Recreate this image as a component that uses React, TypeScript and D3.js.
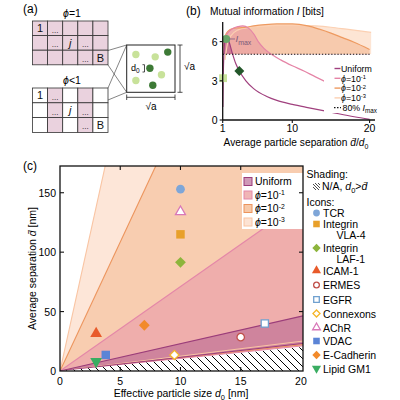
import React from 'react';
import * as d3 from 'd3';

const FONT = "'Liberation Sans', Arial, Helvetica, sans-serif";

// ---------- Panel (a) ----------
const gridCols = [0, 1, 2, 3, 4];
const gridRows = [0, 1, 2];
const sparseFilledCols = [1, 3];
const cellLabelCol = [0, 1, 1, 2, 3, 3, 4];
const cellLabelRow = [0, 0, 1, 1, 1, 2, 2];
const cellLabelText = ['1', '...', '...', 'j', '...', '...', 'B'];
const dotU = [0.19, 0.59, 0.72, 0.19, 0.85, 0.48, 0.54];
const dotV = [0.2, 0.25, 0.63, 0.75, 0.15, 0.49, 0.85];
const dotDark = [false, false, false, false, true, true, true];

// ---------- Panel (b) ----------
const uniformSep = [1.02, 1.08, 1.15, 1.25, 1.4, 1.55, 1.8, 2.2, 2.7, 3.15, 4, 5, 6.7, 8, 10, 12, 15, 18, 20];
const uniformInfo = [1.0, 3.6, 5.0, 5.9, 6.25, 6.25, 6.0, 5.2, 4.3, 3.75, 3.0, 2.4, 1.8, 1.5, 1.2, 0.95, 0.6, 0.25, 0.05];
const phi1Sep = [1, 1.3, 1.7, 2.3, 3, 3.6, 4.3, 5, 5.6, 6.3, 7.3, 8.5, 10, 11.5, 13, 15, 17, 20];
const phi1Info = [5.7, 6.3, 6.7, 7.0, 7.15, 7.2, 7.05, 6.6, 6.0, 5.5, 5.03, 4.6, 4.15, 3.75, 3.3, 2.75, 2.3, 1.75];
const phi2Sep = [1, 1.3, 1.7, 2.3, 3, 4, 5, 6.5, 8, 10, 12, 13.5, 15, 16.5, 18, 20];
const phi2Info = [5.5, 6.4, 6.8, 7.0, 7.05, 7.1, 7.2, 7.3, 7.35, 7.35, 7.2, 6.95, 6.65, 6.3, 5.95, 5.4];
const phi3Sep = [1.3, 1.6, 2, 3, 4, 5.5, 7, 9, 11, 13, 15, 17, 20.2];
const phi3Info = [4.6, 5.8, 6.4, 6.9, 7.05, 7.15, 7.2, 7.25, 7.25, 7.2, 7.1, 6.95, 6.7];
const imax = 6.29;
const markerSep = [1.05, 1.45, 3.15];
const markerInfo = [3.2, 6.2, 3.75];
const infoTicks = [0, 3, 6];
const sepTicks = [1, 10, 20];

// ---------- Panel (c) ----------
const regionExp = ['-3', '-2', '-1', 'Uniform'];
const regionLow = [1.25, 1.1, 1.05, 1.15];
const regionHigh = [46, 21.7, 7.1, 2.3];
const proteinNames = ['TCR', 'Integrin VLA-4', 'Integrin LAF-1', 'ICAM-1', 'ERMES', 'EGFR', 'Connexons', 'AChR', 'VDAC', 'E-Cadherin', 'Lipid GM1'];
const proteinSize = [10, 10, 10, 3, 15, 17, 9.5, 10, 3.8, 7, 3];
const proteinSep = [153, 115, 91.5, 31.5, 28.5, 40, 13.5, 134, 13.5, 38.5, 8];
const proteinShape = ['circle', 'square', 'diamond', 'triangle', 'circle', 'square', 'diamond', 'triangle', 'square', 'diamond', 'triangleDown'];
const proteinFilled = [true, true, true, true, false, false, false, false, true, true, true];
const proteinColor = ['#7ea6d8', '#e8a02a', '#8db53c', '#e85a2a', '#c0504a', '#6fa0cf', '#f5b62a', '#d877b8', '#5b84d6', '#f28a2a', '#3aad62'];
const xTicksC = [0, 5, 10, 15, 20];
const yTicksC = [0, 50, 100, 150];

const regionFill = ['#fde6d8', '#f8cdb0', '#efaeac', '#c97c9a'];
const regionStroke = ['#f9c4a2', '#ec945c', '#e487a8', '#9b3d7a'];
const regionSwatch = ['#fde3d3', '#f7c9a8', '#f0b5b5', '#cf9ab8'];

function symbolPath(shape: string, size: number) {
  if (shape === 'circle') return { d: d3.symbol(d3.symbolCircle, size)()!, rot: 0 };
  if (shape === 'square') return { d: d3.symbol(d3.symbolSquare, size)()!, rot: 0 };
  if (shape === 'diamond') return { d: d3.symbol(d3.symbolSquare, size)()!, rot: 45 };
  if (shape === 'triangle') return { d: d3.symbol(d3.symbolTriangle, size)()!, rot: 0 };
  return { d: d3.symbol(d3.symbolTriangle, size)()!, rot: 180 };
}
const shapeSize: Record<string, number> = { circle: 60, square: 72, diamond: 58, triangle: 60, triangleDown: 60 };

function Marker({ x, y, shape, color, filled, scale = 1 }: any) {
  const s = symbolPath(shape, shapeSize[shape] * scale * (filled ? 1 : 0.72));
  return (
    <path d={s.d} transform={`translate(${x},${y}) rotate(${s.rot})`}
      fill={filled ? color : '#fff'} stroke={color} strokeWidth={filled ? 0 : 1.3} />
  );
}

export default function App() {
  // panel (a)
  const cw = 15.1;
  const topX0 = 32.5, topY0 = 21, ch = 14.6;
  const botY0 = 88, ch2 = 14.8;
  const box = { x: 126.7, y: 45, w: 48.3, h: 47.3 };
  const bx = d3.scaleLinear().domain([0, 1]).range([box.x, box.x + box.w]);
  const by = d3.scaleLinear().domain([0, 1]).range([box.y, box.y + box.h]);

  // panel (b)
  const xB = d3.scaleLinear().domain([1, 20.7]).range([222.7, 375]);
  const yB = d3.scaleLinear().domain([0, 7.5]).range([120, 22]);
  const thr = 0.8 * imax;
  const lineB = d3.line<[number, number]>().x(d => xB(d[0])).y(d => yB(d[1])).curve(d3.curveMonotoneX);
  const areaB = d3.area<[number, number]>().x(d => xB(d[0])).y0(yB(thr)).y1(d => yB(d[1])).curve(d3.curveMonotoneX);
  const zip = (a: number[], b: number[]) => a.map((v, i) => [v, b[i]] as [number, number]);
  const curvesB = [
    { pts: zip(phi3Sep, phi3Info), fill: '#fcdcc6', op: 0.75, stroke: '#fcd0b2' },
    { pts: zip(phi2Sep, phi2Info), fill: '#f3b58c', op: 0.55, stroke: '#ee9a60' },
    { pts: zip(phi1Sep, phi1Info), fill: '#e48a9c', op: 0.5, stroke: '#e584a6' },
    { pts: zip(uniformSep, uniformInfo), fill: '#a8457f', op: 0.45, stroke: '#a0407e' },
  ];
  const markerColors = ['#c8e29a', '#6aa76a', '#23572a'];
  const markerShapes = ['square', 'circle', 'diamond'];

  // panel (c)
  const xC = d3.scaleLinear().domain([0, 20.17]).range([60, 303]);
  const yC = d3.scaleLinear().domain([0, 172.5]).range([371, 166]);
  const xmax = 20.17;
  const regionPoly = (lo: number, hi: number) =>
    `M${xC(0)},${yC(0)}L${xC(xmax)},${yC(lo * xmax)}L${xC(xmax)},${yC(hi * xmax)}Z`;
  const rayPath = (s: number) => `M${xC(0)},${yC(0)}L${xC(xmax)},${yC(s * xmax)}`;

  const legendRowsC = [181.5, 195, 208.5, 222];
  const legendOrder = [3, 2, 1, 0];

  const iconLegendY = [213, 224, 248, 270.5, 285, 299.5, 313.5, 327.5, 341, 355, 368.5];
  const iconSecondLine = ['', 'VLA-4', 'LAF-1', '', '', '', '', '', '', '', ''];

  const dbar = 'd\u0304';

  return (
    <svg width={400} height={400} style={{ position: 'absolute', left: 0, top: 0, background: '#fff' }} fontFamily={FONT}>
      <defs>
        <pattern id="hatch" patternUnits="userSpaceOnUse" width={8} height={8}>
          <path d="M-2,6 L2,10 M0,0 L8,8 M6,-2 L10,2" stroke="#000" strokeWidth={1} />
        </pattern>
        <pattern id="hatchSmall" patternUnits="userSpaceOnUse" width={3} height={3}>
          <path d="M-1,2 L1,4 M0,0 L3,3 M2,-1 L4,1" stroke="#000" strokeWidth={0.7} />
        </pattern>
        <clipPath id="plotC"><rect x={60} y={166} width={243} height={205} /></clipPath>
        <clipPath id="above80"><rect x={222} y={0} width={160} height={yB(thr)} /></clipPath>
      </defs>
      <rect x={0} y={0} width={400} height={400} fill="#fff" />

      {/* ================= Panel (a) ================= */}
      <text x={23} y={12.5} fontSize={12}>(a)</text>
      <text x={72} y={17} fontSize={10.5} textAnchor="middle"><tspan fontStyle="italic">ϕ</tspan>=1</text>
      <text x={72} y={84} fontSize={10.5} textAnchor="middle"><tspan fontStyle="italic">ϕ</tspan>&lt;1</text>
      {gridRows.map(r => gridCols.map(c => (
        <rect key={`t${r}${c}`} x={topX0 + c * cw} y={topY0 + r * ch} width={cw} height={ch}
          fill="#ead2de" stroke="#333" strokeWidth={0.8} />
      )))}
      {gridRows.map(r => gridCols.map(c => (
        <rect key={`b${r}${c}`} x={topX0 + c * cw} y={botY0 + r * ch2} width={cw} height={ch2}
          fill={sparseFilledCols.includes(c) ? '#ead2de' : '#fff'} stroke="#333" strokeWidth={0.8} />
      )))}
      {[{ y0: topY0, h: ch }, { y0: botY0, h: ch2 }].map((g, gi) => cellLabelText.map((t, i) => {
        const cx = topX0 + cellLabelCol[i] * cw;
        const cy = g.y0 + cellLabelRow[i] * g.h;
        const isDots = t === '...';
        return (
          <text key={`l${gi}${i}`} x={cx + cw / 2} y={isDots ? cy + g.h - 3 : cy + g.h / 2 + 4}
            fontSize={isDots ? 8 : 11} textAnchor="middle" fontStyle={t === 'j' ? 'italic' : 'normal'} fill="#111">{t}</text>
        );
      }))}
      {/* connector lines */}
      <line x1={108} y1={50.5} x2={box.x} y2={box.y} stroke="#333" strokeWidth={0.6} />
      <line x1={108} y1={65} x2={box.x} y2={box.y + box.h} stroke="#333" strokeWidth={0.6} />
      <line x1={108} y1={88} x2={box.x} y2={box.y} stroke="#333" strokeWidth={0.6} />
      <line x1={108} y1={100} x2={box.x} y2={box.y + box.h} stroke="#333" strokeWidth={0.6} />
      <rect x={box.x} y={box.y} width={box.w} height={box.h} fill="#fff" stroke="#222" strokeWidth={1} />
      {dotU.map((u, i) => (
        <circle key={`d${i}`} cx={bx(u)} cy={by(dotV[i])} r={3.7} fill={dotDark[i] ? '#3d7a36' : '#c8e29a'} />
      ))}
      <text x={131} y={71} fontSize={9}>d<tspan dy={2} fontSize={6.5}>0</tspan></text>
      <path d="M142.5,64.7 H144.5 V72 H142.5" fill="none" stroke="#222" strokeWidth={0.8} />
      <path d={`M177.5,${box.y} H182.5 M180,${box.y} V${box.y + box.h} M177.5,${box.y + box.h} H182.5`} stroke="#222" strokeWidth={0.8} fill="none" />
      <text x={184} y={70} fontSize={10}>√a</text>
      <path d={`M${box.x},94.5 V100 M${box.x},97.3 H${box.x + box.w} M${box.x + box.w},94.5 V100`} stroke="#222" strokeWidth={0.8} fill="none" />
      <text x={151} y={110} fontSize={10} textAnchor="middle">√a</text>

      {/* ================= Panel (b) ================= */}
      <text x={186} y={15} fontSize={12}>(b)</text>
      <text x={210} y={14.5} fontSize={10.2}>Mutual information <tspan fontStyle="italic">I</tspan> [bits]</text>
      <g clipPath="url(#above80)">
        {curvesB.map((c, i) => (
          <path key={`a${i}`} d={areaB(c.pts)!} fill={c.fill} fillOpacity={c.op} stroke="none" />
        ))}
      </g>
      {curvesB.map((c, i) => (
        <path key={`c${i}`} d={lineB(c.pts)!} fill="none" stroke={c.stroke} strokeWidth={1.2} />
      ))}
      <line x1={xB(1)} x2={xB(20)} y1={yB(thr)} y2={yB(thr)} stroke="#111" strokeWidth={1.2} strokeDasharray="1.3,1.8" />
      {markerSep.map((s, i) => (
        <Marker key={`m${i}`} x={xB(s)} y={yB(markerInfo[i])} shape={markerShapes[i]} color={markerColors[i]} filled scale={0.85} />
      ))}
      <line x1={xB(markerSep[1]) + 3} x2={235} y1={yB(markerInfo[1])} y2={yB(markerInfo[1])} stroke="#8a6585" strokeWidth={0.9} />
      <text x={235.5} y={yB(markerInfo[1]) + 3.5} fontSize={9.5} fill="#7a5a7a"><tspan fontStyle="italic">I</tspan><tspan dy={2.5} fontSize={7}>max</tspan></text>
      {/* axes */}
      <line x1={xB(1)} x2={xB(1)} y1={yB(0)} y2={22} stroke="#111" strokeWidth={1.3} />
      <line x1={xB(1)} x2={375} y1={yB(0)} y2={yB(0)} stroke="#111" strokeWidth={1.3} />
      {infoTicks.map(t => (
        <g key={`yt${t}`}>
          <line x1={xB(1) - 3} x2={xB(1)} y1={yB(t)} y2={yB(t)} stroke="#111" strokeWidth={1.1} />
          <text x={xB(1) - 5} y={yB(t) + 4} fontSize={10.5} textAnchor="end">{t}</text>
        </g>
      ))}
      {sepTicks.map(t => (
        <g key={`xt${t}`}>
          <line x1={xB(t)} x2={xB(t)} y1={yB(0)} y2={yB(0) + 3} stroke="#111" strokeWidth={1.1} />
          <text x={xB(t)} y={131.5} fontSize={10.5} textAnchor="middle">{t}</text>
        </g>
      ))}
      <text x={296} y={146} fontSize={10.2} textAnchor="middle">Average particle separation <tspan fontStyle="italic">{dbar}</tspan>/<tspan fontStyle="italic">d</tspan><tspan dy={2.5} fontSize={7}>0</tspan></text>
      {/* legend (b) */}
      <rect x={324} y={61} width={54} height={52} fill="#fff" />
      {[3, 2, 1, 0].map((ci, k) => {
        const y = 68.5 + k * 9.8;
        const c = curvesB[ci];
        return (
          <g key={`lb${k}`}>
            <line x1={334.5} x2={340.5} y1={y} y2={y} stroke={c.stroke} strokeWidth={1.4} />
            <text x={341} y={y + 3.2} fontSize={8.8}>
              {k === 0 ? 'Uniform' : <><tspan fontStyle="italic">ϕ</tspan>=10<tspan dy={-2.8} fontSize={5.8}>{`-${k}`}</tspan></>}
            </text>
          </g>
        );
      })}
      <line x1={334} x2={341} y1={107.7} y2={107.7} stroke="#111" strokeWidth={1.2} strokeDasharray="1.5,1.5" />
      <text x={342.5} y={110.8} fontSize={8.8}>80% <tspan fontStyle="italic">I</tspan><tspan dy={2.5} fontSize={6.3}>max</tspan></text>

      {/* ================= Panel (c) ================= */}
      <text x={23} y={169.5} fontSize={12}>(c)</text>
      <g clipPath="url(#plotC)">
        {regionLow.map((lo, i) => (
          <path key={`rf${i}`} d={regionPoly(lo, regionHigh[i])} fill={regionFill[i]} fillOpacity={i === 3 ? 0.85 : 1} stroke="none" />
        ))}
        {regionLow.map((lo, i) => (
          <g key={`rl${i}`}>
            <path d={rayPath(lo)} stroke={regionStroke[i]} strokeWidth={1} fill="none" />
            <path d={rayPath(regionHigh[i])} stroke={regionStroke[i]} strokeWidth={1.1} fill="none" />
          </g>
        ))}
        <path d={`M${xC(0)},${yC(0)}L${xC(xmax)},${yC(0)}L${xC(xmax)},${yC(xmax)}Z`} fill="#fff" />
        <path d={`M${xC(0)},${yC(0)}L${xC(xmax)},${yC(0)}L${xC(xmax)},${yC(xmax)}Z`} fill="url(#hatch)" />
        {proteinNames.map((n, i) => (
          <Marker key={`p${i}`} x={xC(proteinSize[i])} y={yC(proteinSep[i])} shape={proteinShape[i]} color={proteinColor[i]} filled={proteinFilled[i]} />
        ))}
      </g>
      {/* legend inside (c) */}
      <rect x={242} y={173} width={61} height={56} fill="#fff" />
      {legendOrder.map((ri, k) => (
        <g key={`lc${k}`}>
          <rect x={244} y={legendRowsC[k] - 4} width={8} height={8} fill={regionSwatch[ri]} stroke={regionStroke[ri]} strokeWidth={1} />
          <text x={255} y={legendRowsC[k] + 3.8} fontSize={10.5}>
            {regionExp[ri] === 'Uniform' ? 'Uniform' : <><tspan fontStyle="italic">ϕ</tspan>=10<tspan dy={-3.5} fontSize={6.8}>{regionExp[ri]}</tspan></>}
          </text>
        </g>
      ))}
      {/* frame & ticks */}
      <rect x={60} y={166} width={243} height={205} fill="none" stroke="#111" strokeWidth={1.3} />
      {xTicksC.map(t => (
        <g key={`cx${t}`}>
          {t > 0 && t < 20 && <line x1={xC(t)} x2={xC(t)} y1={371} y2={367} stroke="#111" strokeWidth={1.1} />}
          {t > 0 && t < 20 && <line x1={xC(t)} x2={xC(t)} y1={166} y2={170} stroke="#111" strokeWidth={1.1} />}
          <text x={xC(t)} y={385} fontSize={10.5} textAnchor="middle">{t}</text>
        </g>
      ))}
      {yTicksC.map(t => (
        <g key={`cy${t}`}>
          {t > 0 && <line x1={60} x2={64} y1={yC(t)} y2={yC(t)} stroke="#111" strokeWidth={1.1} />}
          {t > 0 && <line x1={303} x2={299} y1={yC(t)} y2={yC(t)} stroke="#111" strokeWidth={1.1} />}
          <text x={56} y={yC(t) + 4} fontSize={10.5} textAnchor="end">{t}</text>
        </g>
      ))}
      <text x={181} y={397} fontSize={10.5} textAnchor="middle">Effective particle size <tspan fontStyle="italic">d</tspan><tspan dy={2.5} fontSize={7.5}>0</tspan><tspan dy={-2.5}> [nm]</tspan></text>
      <text transform="translate(36,268.5) rotate(-90)" fontSize={10.5} textAnchor="middle">Average separation <tspan fontStyle="italic">{dbar}</tspan> [nm]</text>

      {/* right legend */}
      <text x={306.5} y={178} fontSize={10.5}>Shading:</text>
      <rect x={313} y={183} width={7} height={7} fill="url(#hatchSmall)" />
      <text x={322} y={190} fontSize={10.5}>N/A, <tspan fontStyle="italic">d</tspan><tspan dy={2.5} fontSize={7.5}>0</tspan><tspan dy={-2.5}>&gt;</tspan><tspan fontStyle="italic">{dbar}</tspan></text>
      <text x={306.5} y={206} fontSize={10.5}>Icons:</text>
      {proteinNames.map((n, i) => {
        const y = iconLegendY[i];
        const first = iconSecondLine[i] ? n.split(' ')[0] : n;
        return (
          <g key={`il${i}`}>
            <Marker x={316.5} y={y} shape={proteinShape[i]} color={proteinColor[i]} filled={proteinFilled[i]} scale={0.6} />
            <text x={323} y={y + 4} fontSize={10.5}>{first}</text>
            {iconSecondLine[i] && <text x={336.5} y={y + 14.5} fontSize={10.5}>{iconSecondLine[i]}</text>}
          </g>
        );
      })}
    </svg>
  );
}
